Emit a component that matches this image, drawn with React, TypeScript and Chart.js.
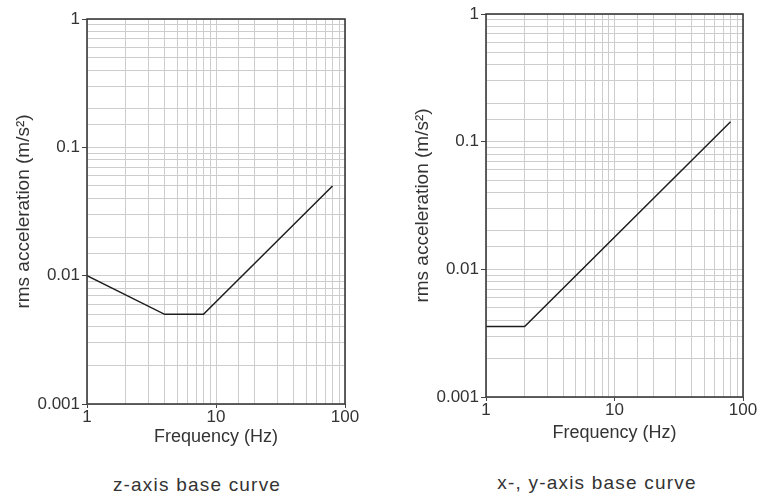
import React, { useEffect, useRef } from 'react';
import { Chart, registerables } from 'chart.js';

Chart.register(...registerables);

// ---- data ----
const zFrequency = [1, 4, 8, 80];
const zAcceleration = [0.01, 0.005, 0.005, 0.05];
const xyFrequency = [1, 2, 80];
const xyAcceleration = [0.00357, 0.00357, 0.143];
const xTickLabels = [1, 10, 100];
const yTickLabels = [0.001, 0.01, 0.1, 1];
const xAxisTitle = 'Frequency (Hz)';
const yAxisTitle = 'rms acceleration (m/s²)';
const captions = ['z-axis base curve', 'x-, y-axis base curve'];

const FONT = "'Liberation Sans', Arial, Helvetica, sans-serif";
const TEXT = '#333333';

function matchLabel(list: number[], v: number): number | undefined {
  return list.find((l) => Math.abs(v - l) / l < 1e-6);
}

const framePlugin = {
  id: 'frame',
  afterDraw(chart: any) {
    const { ctx, chartArea } = chart;
    ctx.save();
    ctx.strokeStyle = '#3a3a3a';
    ctx.lineWidth = 1.6;
    ctx.strokeRect(chartArea.left, chartArea.top, chartArea.right - chartArea.left, chartArea.bottom - chartArea.top);
    ctx.restore();
  },
};

type PanelProps = {
  freq: number[];
  acc: number[];
  left: number;
  width: number;
  height: number;
  padTop: number;
  padRight: number;
  padBottom: number;
  yAxisWidth: number;
  xAxisHeight: number;
  yTitlePad: number;
};

function Panel(p: PanelProps) {
  const ref = useRef<HTMLCanvasElement | null>(null);
  useEffect(() => {
    if (!ref.current) return;
    const points = p.freq.map((f, i) => ({ x: f, y: p.acc[i] }));
    const chart = new Chart(ref.current, {
      type: 'line',
      data: {
        datasets: [
          {
            data: points,
            borderColor: '#1e1e1e',
            borderWidth: 1.5,
            pointRadius: 0,
            tension: 0,
            fill: false,
          },
        ],
      },
      plugins: [framePlugin],
      options: {
        responsive: false,
        animation: false,
        devicePixelRatio: 1,
        layout: { padding: { top: p.padTop, right: p.padRight, bottom: p.padBottom, left: 0 } },
        plugins: { legend: { display: false }, tooltip: { enabled: false } },
        scales: {
          x: {
            type: 'logarithmic',
            min: 1,
            max: 100,
            border: { display: false },
            grid: {
              color: '#cdcdcd',
              lineWidth: 1,
              tickLength: 4,
              tickColor: (ctx: any) =>
                ctx.tick && matchLabel(xTickLabels, ctx.tick.value) !== undefined ? '#444' : 'rgba(0,0,0,0)',
            },
            ticks: {
              autoSkip: false,
              maxRotation: 0,
              padding: 1,
              color: TEXT,
              font: { family: FONT, size: 17, lineHeight: 1 },
              callback: (v: any) => {
                const m = matchLabel(xTickLabels, Number(v));
                return m === undefined ? '' : String(m);
              },
            },
            title: {
              display: true,
              text: xAxisTitle,
              color: TEXT,
              font: { family: FONT, size: 18, lineHeight: 1.2 },
              padding: { top: 0, bottom: 0 },
            },
            afterFit: (scale: any) => {
              scale.height = p.xAxisHeight;
            },
          },
          y: {
            type: 'logarithmic',
            min: 0.001,
            max: 1,
            border: { display: false },
            grid: {
              color: '#cdcdcd',
              lineWidth: 1,
              tickLength: 5,
              tickColor: (ctx: any) =>
                ctx.tick && matchLabel(yTickLabels, ctx.tick.value) !== undefined ? '#444' : 'rgba(0,0,0,0)',
            },
            ticks: {
              autoSkip: false,
              padding: 2,
              color: TEXT,
              font: { family: FONT, size: 17, lineHeight: 1 },
              callback: (v: any) => {
                const m = matchLabel(yTickLabels, Number(v));
                return m === undefined ? '' : String(m);
              },
            },
            title: {
              display: true,
              text: yAxisTitle,
              color: TEXT,
              font: { family: FONT, size: 19, lineHeight: 1.2 },
              padding: { top: p.yTitlePad, bottom: 0 },
            },
            afterFit: (scale: any) => {
              scale.width = p.yAxisWidth;
            },
          },
        },
      } as any,
    });
    return () => chart.destroy();
  }, []);
  return (
    <canvas
      ref={ref}
      width={p.width}
      height={p.height}
      style={{ position: 'absolute', left: p.left, top: 0, width: p.width, height: p.height }}
    />
  );
}

function Caption({ text, cx, cy }: { text: string; cx: number; cy: number }) {
  return (
    <div
      style={{
        position: 'absolute',
        left: cx - 150,
        width: 300,
        top: cy - 11,
        height: 22,
        lineHeight: '22px',
        textAlign: 'center',
        fontFamily: FONT,
        fontSize: 19,
        letterSpacing: '1.2px',
        color: TEXT,
        whiteSpace: 'nowrap',
      }}
    >
      {text}
    </div>
  );
}

export default function App() {
  return (
    <div style={{ position: 'absolute', left: 0, top: 0, width: 766, height: 497, background: '#ffffff', overflow: 'hidden' }}>
      <Panel
        freq={zFrequency}
        acc={zAcceleration}
        left={0}
        width={380}
        height={460}
        padTop={19}
        padRight={35}
        padBottom={12}
        yAxisWidth={87}
        xAxisHeight={44}
        yTitlePad={12}
      />
      <Panel
        freq={xyFrequency}
        acc={xyAcceleration}
        left={380}
        width={386}
        height={460}
        padTop={14}
        padRight={23}
        padBottom={16}
        yAxisWidth={106}
        xAxisHeight={47}
        yTitlePad={31}
      />
      <Caption text={captions[0]} cx={197} cy={485} />
      <Caption text={captions[1]} cx={597} cy={483} />
    </div>
  );
}
